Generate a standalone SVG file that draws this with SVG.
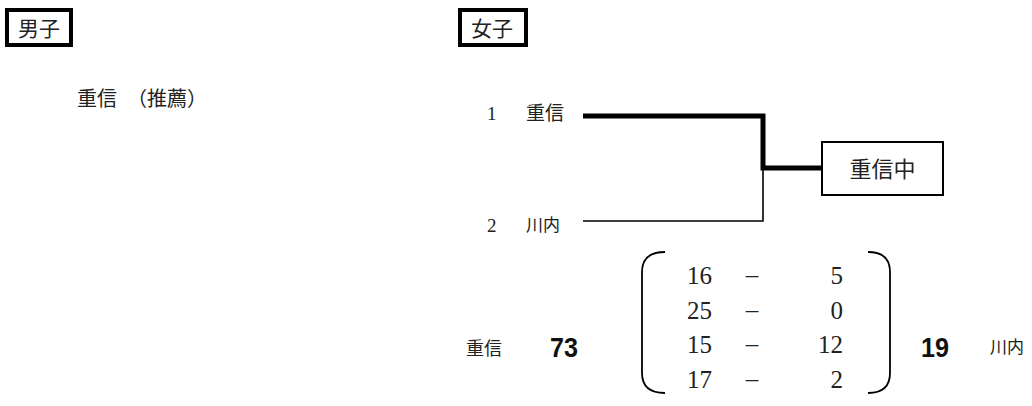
<svg xmlns="http://www.w3.org/2000/svg" width="1032" height="406" viewBox="0 0 1032 406">
<style>
.jp{font-family:"Noto Sans CJK JP","Noto Sans CJK SC",sans-serif;fill:#222}
.num{font-family:"Liberation Serif","DejaVu Serif",serif;fill:#222}
.big{font-family:"Liberation Sans",Arial,sans-serif;font-weight:bold;fill:#111}
.hdr{fill:#fff;stroke:#000;stroke-width:4}
.box{fill:#fff;stroke:#000;stroke-width:2}
.thick{stroke:#000;stroke-width:5;fill:none}
.thin{stroke:#000;stroke-width:1.6;fill:none}
.brk{stroke:#000;stroke-width:1.8;fill:none}
</style>
<rect width="1032" height="406" fill="#fff"/>
<g id="hdr-boys">
<rect class="hdr" x="7" y="10" width="64" height="35"/>
<text class="jp" x="18" y="36" font-size="21">男子</text>
</g>
<g id="boys-result">
<text class="jp" x="77" y="106" font-size="20">重信　（推薦）</text>
</g>
<g id="hdr-girls">
<rect class="hdr" x="460" y="10" width="66" height="35"/>
<text class="jp" x="471" y="36" font-size="21">女子</text>
</g>
<g id="team1">
<text class="num" x="487" y="120" font-size="19">1</text>
<text class="jp" x="526" y="120" font-size="19">重信</text>
</g>
<g id="team2">
<text class="num" x="487" y="232" font-size="19">2</text>
<text class="jp" x="526" y="231" font-size="17">川内</text>
</g>
<g id="winner">
<rect class="box" x="822" y="142" width="121" height="53"/>
<text class="jp" x="882.5" y="177" font-size="22" text-anchor="middle">重信中</text>
</g>
<g id="connectors">
<polyline class="thin" points="583,221 763,221 763,168"/>
<polyline class="thick" points="583,116 763,116 763,168 822,168"/>
</g>
<g id="score">
<text class="jp" x="466" y="355" font-size="18">重信</text>
<text class="big" x="550" y="357" font-size="28" textLength="28" lengthAdjust="spacingAndGlyphs">73</text>
<path class="brk" d="M665 252 Q642 252 642 272 L642 373 Q642 393 665 393"/>
<path class="brk" d="M868 252 Q890 252 890 272 L890 373 Q890 393 868 393"/>
<g class="num" font-size="25">
<text x="687" y="284">16</text><text x="752" y="283" text-anchor="middle">–</text><text x="843" y="284" text-anchor="end">5</text>
<text x="687" y="319">25</text><text x="752" y="318" text-anchor="middle">–</text><text x="843" y="319" text-anchor="end">0</text>
<text x="687" y="353">15</text><text x="752" y="352" text-anchor="middle">–</text><text x="843" y="353" text-anchor="end">12</text>
<text x="687" y="388">17</text><text x="752" y="387" text-anchor="middle">–</text><text x="843" y="388" text-anchor="end">2</text>
</g>
<text class="big" x="921" y="357" font-size="28" textLength="28" lengthAdjust="spacingAndGlyphs">19</text>
<text class="jp" x="990" y="353" font-size="17">川内</text>
</g>
</svg>
